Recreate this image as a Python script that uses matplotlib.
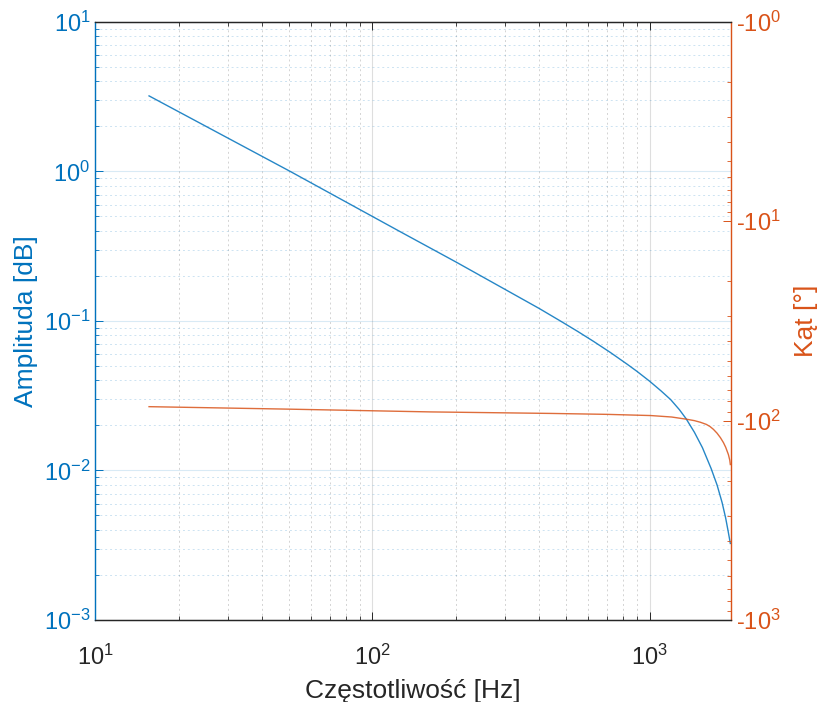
import numpy as np
import matplotlib
matplotlib.use('Agg')
import matplotlib.pyplot as plt
from matplotlib.ticker import LogLocator, FuncFormatter, NullFormatter

plt.rcParams['font.family'] = ['Liberation Sans', 'DejaVu Sans']

# odczytane punkty charakterystyki
freq_amp = [15.63, 50.5, 126.0, 200.0, 300.0, 400.0, 476.0, 550.0, 628.0, 720.0,
            829.0, 900.0, 1000.0, 1100.0, 1190.0, 1280.0, 1353.0, 1450.0, 1550.0,
            1666.0, 1750.0, 1825.0, 1880.0, 1920.0, 1954.0]
amplituda = [3.20, 1.0, 0.395, 0.248, 0.163, 0.121, 0.100, 0.0851, 0.0729, 0.0617,
             0.0514, 0.0460, 0.0395, 0.0340, 0.0298, 0.0255, 0.0222, 0.0180, 0.0142,
             0.0103, 0.0080, 0.0061, 0.0048, 0.0039, 0.00325]

freq_kat = [15.63, 50.5, 161.0, 438.0, 700.0, 1010.0, 1200.0, 1353.0, 1450.0, 1524.0,
            1600.0, 1650.0, 1698.0, 1750.0, 1800.0, 1846.0, 1880.0, 1923.0, 1945.0, 1954.0]
kat = [-85.1, -87.6, -90.4, -92.0, -93.0, -94.3, -95.9, -98.3, -100.0, -101.9,
       -104.4, -107.0, -110.6, -115.6, -121.8, -129.0, -136.0, -148.0, -158.0, -166.0]

f_max = 1960.0

NIEBIESKI = '#0072BD'
POMARANCZ = '#D95319'
CIEMNY = '#262626'

fig = plt.figure(figsize=(8.25, 7.02), dpi=100)
ax = fig.add_axes([0.1155, 0.1168, 0.7702, 0.852])
ax2 = ax.twinx()

ax.plot(freq_amp, amplituda, color=NIEBIESKI, lw=1.0, alpha=0.85)
# kat rysowany jako modul na odwroconej osi logarytmicznej
ax2.plot(freq_kat, -np.array(kat), color=POMARANCZ, lw=1.0, alpha=0.85)

ax.set_xscale('log')
ax.set_yscale('log')
ax2.set_yscale('log')
ax.set_xlim(10, f_max)
ax.set_ylim(1e-3, 1e1)
ax2.set_ylim(1e3, 1e0)

for a in (ax, ax2):
    a.xaxis.set_major_locator(LogLocator(base=10))
    a.xaxis.set_minor_locator(LogLocator(base=10, subs=np.arange(2, 10)))
    a.yaxis.set_major_locator(LogLocator(base=10))
    a.yaxis.set_minor_locator(LogLocator(base=10, subs=np.arange(2, 10)))
    a.yaxis.set_minor_formatter(NullFormatter())
ax.xaxis.set_minor_formatter(NullFormatter())

ax2.yaxis.set_major_formatter(FuncFormatter(
    lambda v, pos: '-$\\mathdefault{10^{%d}}$' % int(round(np.log10(v)))))

# siatka
ax.grid(which='major', axis='x', color=CIEMNY, alpha=0.15, lw=0.8)
ax.grid(which='minor', axis='x', color=CIEMNY, alpha=0.2, lw=0.7, ls=(0, (2, 3)))
ax.grid(which='major', axis='y', color=NIEBIESKI, alpha=0.15, lw=0.8)
ax.grid(which='minor', axis='y', color=NIEBIESKI, alpha=0.2, lw=0.7, ls=(0, (2, 3)))
ax.set_axisbelow(True)

ax.tick_params(axis='x', which='both', direction='in', colors=CIEMNY, top=True,
               labelsize=17, pad=18)
ax.tick_params(axis='x', which='major', length=6, width=0.7)
ax.tick_params(axis='x', which='minor', length=3, width=0.6)
ax.tick_params(axis='y', which='both', direction='in', colors=NIEBIESKI,
               labelsize=17, right=False)
ax.tick_params(axis='y', which='major', length=6, width=0.7)
ax.tick_params(axis='y', which='minor', length=3, width=0.6)
ax2.tick_params(axis='y', which='both', direction='in', colors=POMARANCZ,
                labelsize=17, left=False)
ax2.tick_params(axis='y', which='major', length=6, width=0.7)
ax2.tick_params(axis='y', which='minor', length=3, width=0.6)

for a in (ax, ax2):
    a.spines['top'].set_color(CIEMNY)
    a.spines['bottom'].set_color(CIEMNY)
    a.spines['left'].set_color(NIEBIESKI)
    a.spines['right'].set_color(POMARANCZ)
    for s in a.spines.values():
        s.set_linewidth(0.9)
ax2.spines['right'].set_alpha(0.7)
ax.spines['left'].set_alpha(0.7)

ax.set_xlabel('Częstotliwość [Hz]', fontsize=19, color=CIEMNY, labelpad=6)
ax.set_ylabel('Amplituda [dB]', fontsize=19, color=NIEBIESKI, labelpad=4)
ax2.set_ylabel('Kąt [°]', fontsize=19, color=POMARANCZ, labelpad=10)

fig.savefig('out.png', dpi=100)
plt.close(fig)
